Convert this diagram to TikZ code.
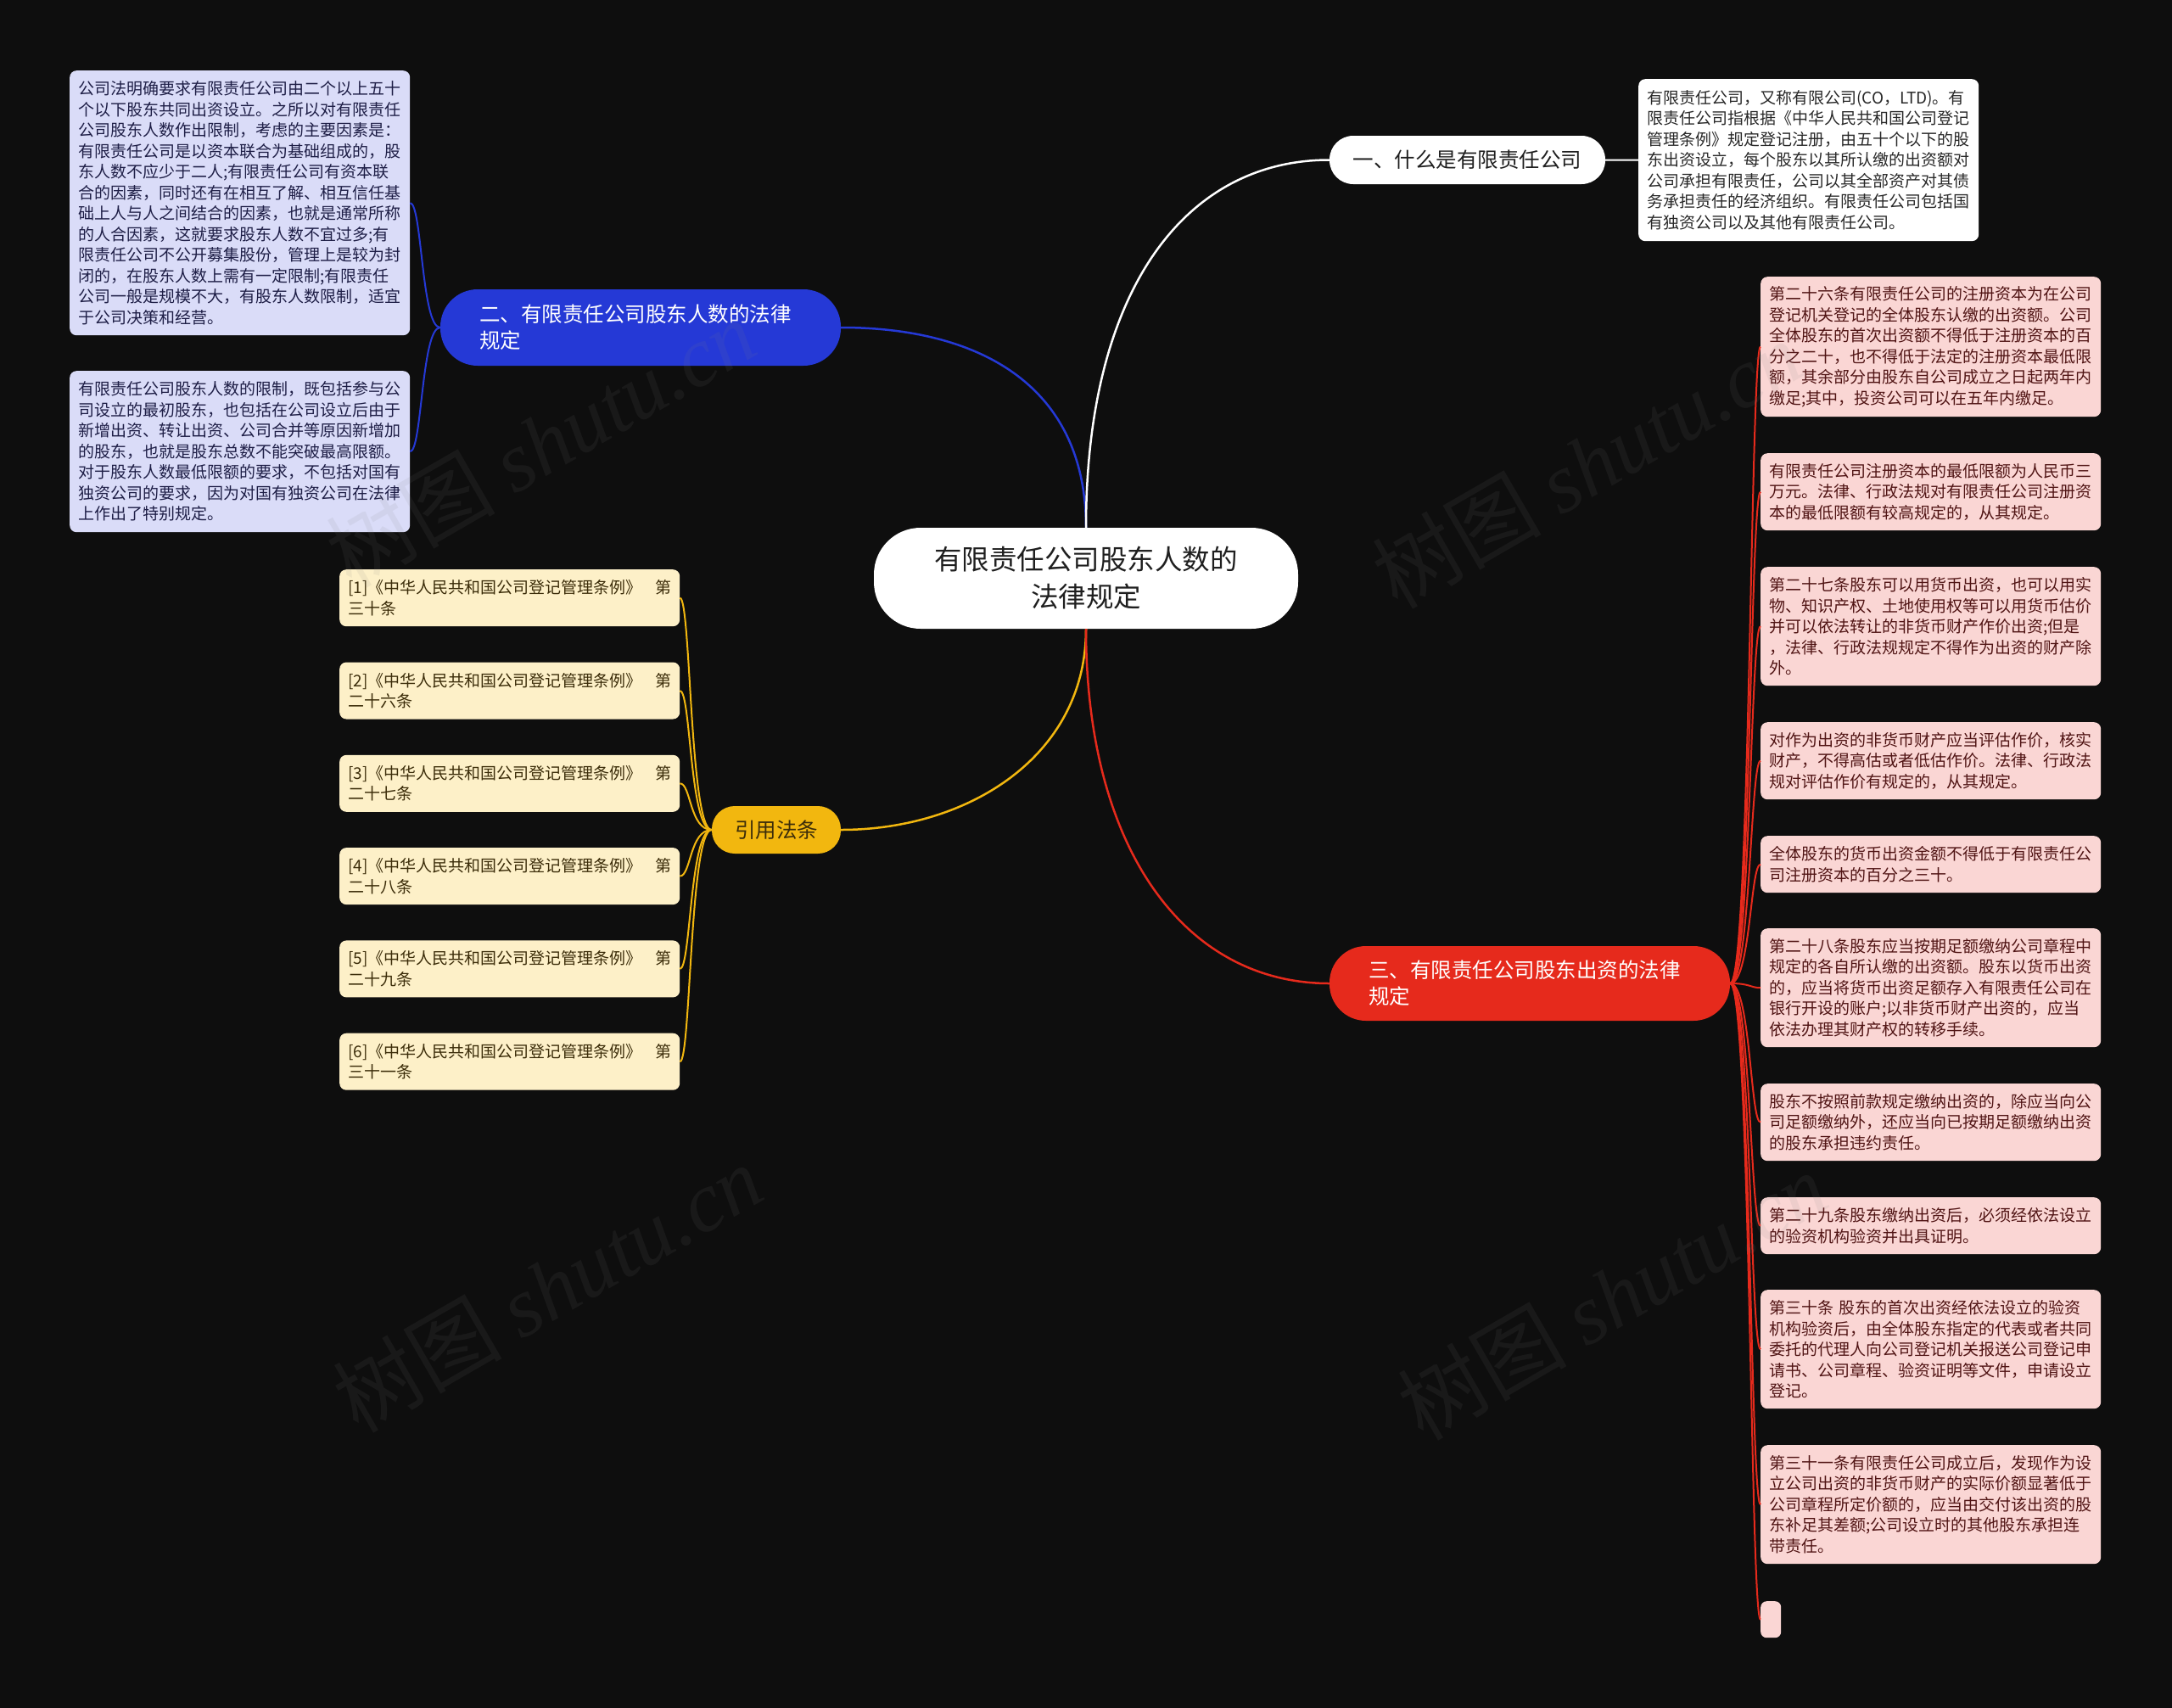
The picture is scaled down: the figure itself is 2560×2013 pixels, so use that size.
\documentclass[tikz,border=0pt]{standalone}
\usepackage{fontspec}
\setmainfont{Noto Sans CJK SC}
\newfontfamily\wmserif{Liberation Serif}
\usetikzlibrary{calc}
\definecolor{bg}{RGB}{14,14,14}
\definecolor{bluenode}{RGB}{37,57,214}
\definecolor{blueleaf}{RGB}{218,220,248}
\definecolor{bluetext}{RGB}{30,30,70}
\definecolor{rednode}{RGB}{230,42,28}
\definecolor{redleaf}{RGB}{250,214,212}
\definecolor{redtext}{RGB}{80,20,20}
\definecolor{yelnode}{RGB}{242,183,15}
\definecolor{yelleaf}{RGB}{253,240,200}
\definecolor{yeltext}{RGB}{60,45,10}
\definecolor{whtext}{RGB}{40,40,40}
\tikzset{
  leafbox/.style={rounded corners=8pt, text width=381pt, inner xsep=10pt, inner ysep=0pt,
    align=left, font=\fontsize{19}{24.5}\selectfont, anchor=north west},
  bleaf/.style={leafbox, fill=blueleaf, text=bluetext},
  rleaf/.style={leafbox, fill=redleaf, text=redtext},
  yleaf/.style={leafbox, fill=yelleaf, text=yeltext, minimum height=67pt},
  wleaf/.style={leafbox, fill=white, text=whtext},
  topicbox/.style={font=\fontsize{24.5}{31}\selectfont, inner ysep=0pt},
  mainline/.style={line width=2.5pt},
  subline/.style={line width=2pt},
  wmark/.style={rotate=30, text=gray, opacity=0.10, font=\fontsize{100}{100}\selectfont}
}
\begin{document}
\begin{tikzpicture}[x=1pt,y=-1pt]
\useasboundingbox (0,0) rectangle (2560,2013);
\fill[bg] (0,0) rectangle (2560,2013);

% central
\node[fill=white, rounded corners=55pt, minimum width=500pt, minimum height=119pt,
  align=center, text=black!88, font=\fontsize{32.5}{44}\selectfont] (c) at (1280,681.5)
  {有限责任公司股东人数的\\法律规定};

% topics
\node[topicbox, fill=bluenode, rounded corners=44pt, minimum height=90pt, text width=380pt,
  inner xsep=46pt, align=left, text=white] (bn) at (755,386)
  {二、有限责任公司股东人数的法律\\规定};
\node[topicbox, fill=white, rounded corners=28pt, minimum width=325pt, minimum height=57pt,
  text=black!88] (wn) at (1729.5,188.5) {一、什么是有限责任公司};
\node[topicbox, fill=yelnode, rounded corners=27pt, minimum width=152pt, minimum height=56pt,
  text=yeltext] (yn) at (915,978) {引用法条};
\node[topicbox, fill=rednode, rounded corners=43pt, minimum height=88pt, text width=380pt,
  inner xsep=46pt, align=left, text=white] (rn) at (1803,1159)
  {三、有限责任公司股东出资的法律\\规定};

% blue leaves
\node[bleaf, minimum height=312pt] (l1) at (82,83) {公司法明确要求有限责任公司由二个以上五十\\个以下股东共同出资设立。之所以对有限责任\\公司股东人数作出限制，考虑的主要因素是：\\有限责任公司是以资本联合为基础组成的，股\\东人数不应少于二人;有限责任公司有资本联\\合的因素，同时还有在相互了解、相互信任基\\础上人与人之间结合的因素，也就是通常所称\\的人合因素，这就要求股东人数不宜过多;有\\限责任公司不公开募集股份，管理上是较为封\\闭的，在股东人数上需有一定限制;有限责任\\公司一般是规模不大，有股东人数限制，适宜\\于公司决策和经营。};
\node[bleaf, minimum height=190pt] (l2) at (82,437) {有限责任公司股东人数的限制，既包括参与公\\司设立的最初股东，也包括在公司设立后由于\\新增出资、转让出资、公司合并等原因新增加\\的股东，也就是股东总数不能突破最高限额。\\对于股东人数最低限额的要求，不包括对国有\\独资公司的要求，因为对国有独资公司在法律\\上作出了特别规定。};

% white leaf
\node[wleaf, minimum height=191pt] (w0) at (1931,93) {有限责任公司，又称有限公司(CO，LTD)。有\\限责任公司指根据《中华人民共和国公司登记\\管理条例》规定登记注册，由五十个以下的股\\东出资设立，每个股东以其所认缴的出资额对\\公司承担有限责任，公司以其全部资产对其债\\务承担责任的经济组织。有限责任公司包括国\\有独资公司以及其他有限责任公司。};

% yellow leaves
\node[yleaf] (y1) at (400,671) {[1]《中华人民共和国公司登记管理条例》\hfill 第\\三十条};
\node[yleaf] (y2) at (400,780.3) {[2]《中华人民共和国公司登记管理条例》\hfill 第\\二十六条};
\node[yleaf] (y3) at (400,889.6) {[3]《中华人民共和国公司登记管理条例》\hfill 第\\二十七条};
\node[yleaf] (y4) at (400,998.9) {[4]《中华人民共和国公司登记管理条例》\hfill 第\\二十八条};
\node[yleaf] (y5) at (400,1108.2) {[5]《中华人民共和国公司登记管理条例》\hfill 第\\二十九条};
\node[yleaf] (y6) at (400,1217.5) {[6]《中华人民共和国公司登记管理条例》\hfill 第\\三十一条};

% red leaves
\node[rleaf, minimum height=165pt] (r1) at (2075,326) {第二十六条有限责任公司的注册资本为在公司\\登记机关登记的全体股东认缴的出资额。公司\\全体股东的首次出资额不得低于注册资本的百\\分之二十，也不得低于法定的注册资本最低限\\额，其余部分由股东自公司成立之日起两年内\\缴足;其中，投资公司可以在五年内缴足。};
\node[rleaf, minimum height=91pt] (r2) at (2075,534) {有限责任公司注册资本的最低限额为人民币三\\万元。法律、行政法规对有限责任公司注册资\\本的最低限额有较高规定的，从其规定。};
\node[rleaf, minimum height=140pt] (r3) at (2075,668) {第二十七条股东可以用货币出资，也可以用实\\物、知识产权、土地使用权等可以用货币估价\\并可以依法转让的非货币财产作价出资;但是\\，法律、行政法规规定不得作为出资的财产除\\外。};
\node[rleaf, minimum height=91pt] (r4) at (2075,851) {对作为出资的非货币财产应当评估作价，核实\\财产，不得高估或者低估作价。法律、行政法\\规对评估作价有规定的，从其规定。};
\node[rleaf, minimum height=67pt] (r5) at (2075,985) {全体股东的货币出资金额不得低于有限责任公\\司注册资本的百分之三十。};
\node[rleaf, minimum height=140pt] (r6) at (2075,1094) {第二十八条股东应当按期足额缴纳公司章程中\\规定的各自所认缴的出资额。股东以货币出资\\的，应当将货币出资足额存入有限责任公司在\\银行开设的账户;以非货币财产出资的，应当\\依法办理其财产权的转移手续。};
\node[rleaf, minimum height=91pt] (r7) at (2075,1277) {股东不按照前款规定缴纳出资的，除应当向公\\司足额缴纳外，还应当向已按期足额缴纳出资\\的股东承担违约责任。};
\node[rleaf, minimum height=67pt] (r8) at (2075,1411) {第二十九条股东缴纳出资后，必须经依法设立\\的验资机构验资并出具证明。};
\node[rleaf, minimum height=140pt] (r9) at (2075,1520) {第三十条 股东的首次出资经依法设立的验资\\机构验资后，由全体股东指定的代表或者共同\\委托的代理人向公司登记机关报送公司登记申\\请书、公司章程、验资证明等文件，申请设立\\登记。};
\node[rleaf, minimum height=140pt] (r10) at (2075,1703) {第三十一条有限责任公司成立后，发现作为设\\立公司出资的非货币财产的实际价额显著低于\\公司章程所定价额的，应当由交付该出资的股\\东补足其差额;公司设立时的其他股东承担连\\带责任。};
\node[fill=redleaf, rounded corners=7pt, minimum width=24pt, minimum height=43pt, inner sep=0pt,
  anchor=north west] (r11) at (2075,1887) {};

% main connectors
\draw[mainline, bluenode] (c.north) .. controls ($(c.north)+(0,-170)$) and ($(bn.east)+(160,0)$) .. (bn.east);
\draw[mainline, white] (c.north) .. controls ($(c.north)+(0,-280)$) and ($(wn.west)+(-170,0)$) .. (wn.west);
\draw[mainline, yelnode] (c.south) .. controls ($(c.south)+(0,150)$) and ($(yn.east)+(150,0)$) .. (yn.east);
\draw[mainline, rednode] (c.south) .. controls ($(c.south)+(0,260)$) and ($(rn.west)+(-170,0)$) .. (rn.west);

% sub connectors
\foreach \t in {l1,l2}
  \draw[subline, bluenode] (bn.west) .. controls ($(bn.west)+(-22,0)$) and ($(\t.east)+(14,0)$) .. (\t.east);
\draw[subline, white] (wn.east) -- (w0.west);
\foreach \t in {y1,y2,y3,y4,y5,y6}
  \draw[subline, yelnode] (yn.west) .. controls ($(yn.west)+(-26,0)$) and ($(\t.east)+(13,0)$) .. (\t.east);
\foreach \t in {r1,r2,r3,r4,r5,r6,r7,r8,r9,r10,r11}
  \draw[subline, rednode] (rn.east) .. controls ($(rn.east)+(24,0)$) and ($(\t.west)+(-12,0)$) .. (\t.west);

% watermarks
\node[wmark] (wm1) at (637,522) {树图 {\wmserif\itshape shutu.cn}};
\node[wmark] (wm2) at (1870,547) {树图 {\wmserif\itshape shutu.cn}};
\node[wmark] (wm3) at (645,1518) {树图 {\wmserif\itshape shutu.cn}};
\node[wmark] (wm4) at (1900,1527) {树图 {\wmserif\itshape shutu.cn}};
\end{tikzpicture}
\end{document}
